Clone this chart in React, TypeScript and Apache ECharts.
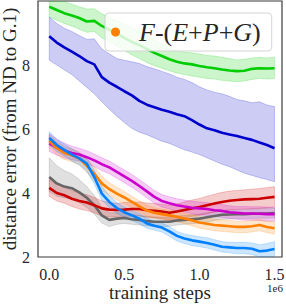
import React, { useEffect, useRef } from "react";
import * as echarts from "echarts";

const steps = [0, 0.05, 0.1, 0.15, 0.2, 0.25, 0.3, 0.35, 0.4, 0.45, 0.5, 0.55, 0.6, 0.65, 0.7, 0.75, 0.8, 0.85, 0.9, 0.95, 1.0, 1.05, 1.1, 1.15, 1.2, 1.25, 1.3, 1.35, 1.4, 1.45, 1.5];

const greenMean = [9.82, 9.72, 9.62, 9.55, 9.47, 9.36, 9.38, 9.22, 9.1, 8.98, 8.85, 8.72, 8.62, 8.5, 8.38, 8.28, 8.18, 8.1, 8.05, 8.02, 7.97, 7.93, 7.9, 7.86, 7.83, 7.81, 7.82, 7.88, 7.9, 7.89, 7.9];
const greenUpper = [10.1, 10.05, 9.98, 9.9, 9.82, 9.75, 9.76, 9.6, 9.5, 9.38, 9.28, 9.16, 9.05, 8.92, 8.78, 8.66, 8.52, 8.45, 8.4, 8.38, 8.34, 8.3, 8.28, 8.24, 8.2, 8.16, 8.18, 8.22, 8.24, 8.22, 8.25];
const greenLower = [9.5, 9.4, 9.3, 9.22, 9.12, 9.02, 9.05, 8.85, 8.72, 8.6, 8.45, 8.32, 8.2, 8.08, 7.98, 7.9, 7.82, 7.75, 7.7, 7.66, 7.62, 7.58, 7.56, 7.52, 7.5, 7.48, 7.5, 7.55, 7.58, 7.56, 7.58];

const navyMean = [8.9, 8.7, 8.55, 8.42, 8.28, 8.12, 8.02, 7.62, 7.45, 7.32, 7.18, 7.05, 6.88, 6.76, 6.68, 6.6, 6.54, 6.46, 6.4, 6.28, 6.14, 6.02, 5.96, 5.88, 5.83, 5.78, 5.72, 5.66, 5.58, 5.5, 5.4];
const navyUpper = [9.5, 9.3, 9.15, 9.05, 8.92, 8.8, 8.82, 8.5, 8.35, 8.2, 8.15, 8.1, 8.05, 7.95, 7.88, 7.8, 7.72, 7.62, 7.55, 7.45, 7.32, 7.22, 7.15, 7.1, 7.02, 6.92, 6.88, 6.82, 6.85, 6.75, 6.7];
const navyLower = [8.15, 8.0, 7.85, 7.7, 7.5, 7.3, 7.1, 6.85, 6.62, 6.4, 6.2, 6.02, 5.9, 5.82, 5.72, 5.62, 5.55, 5.45, 5.35, 5.28, 5.2, 5.1, 5.0, 4.9, 4.82, 4.72, 4.62, 4.55, 4.48, 4.42, 4.35];

const magentaMean = [5.55, 5.42, 5.33, 5.25, 5.2, 5.12, 5.02, 4.9, 4.8, 4.66, 4.52, 4.38, 4.22, 4.05, 3.88, 3.75, 3.68, 3.62, 3.58, 3.54, 3.52, 3.5, 3.46, 3.44, 3.4, 3.38, 3.36, 3.36, 3.35, 3.34, 3.34];
const magentaUpper = [5.85, 5.68, 5.56, 5.46, 5.4, 5.32, 5.22, 5.1, 5.0, 4.86, 4.72, 4.58, 4.42, 4.25, 4.08, 3.95, 3.88, 3.82, 3.78, 3.74, 3.72, 3.7, 3.66, 3.64, 3.6, 3.58, 3.58, 3.57, 3.57, 3.56, 3.55];
const magentaLower = [5.3, 5.18, 5.1, 5.04, 5.0, 4.92, 4.82, 4.7, 4.6, 4.46, 4.32, 4.18, 4.02, 3.85, 3.68, 3.56, 3.5, 3.44, 3.4, 3.35, 3.32, 3.3, 3.26, 3.24, 3.2, 3.18, 3.15, 3.15, 3.14, 3.12, 3.12];

const orangeMean = [5.63, 5.4, 5.25, 5.18, 5.08, 4.85, 4.6, 4.3, 4.12, 3.98, 3.86, 3.72, 3.58, 3.45, 3.38, 3.34, 3.3, 3.26, 3.2, 3.15, 3.08, 3.04, 3.0, 2.98, 2.96, 2.94, 2.94, 2.96, 3.0, 2.94, 2.9];
const orangeUpper = [5.82, 5.6, 5.45, 5.38, 5.28, 5.06, 4.82, 4.52, 4.32, 4.18, 4.05, 3.9, 3.76, 3.62, 3.54, 3.5, 3.46, 3.42, 3.36, 3.32, 3.26, 3.22, 3.18, 3.16, 3.14, 3.12, 3.12, 3.14, 3.18, 3.12, 3.1];
const orangeLower = [5.42, 5.2, 5.05, 4.98, 4.88, 4.64, 4.38, 4.08, 3.92, 3.78, 3.67, 3.54, 3.4, 3.28, 3.22, 3.18, 3.14, 3.1, 3.04, 2.98, 2.9, 2.86, 2.82, 2.8, 2.78, 2.76, 2.76, 2.78, 2.82, 2.76, 2.72];

const skyMean = [5.72, 5.5, 5.35, 5.2, 5.08, 4.92, 4.5, 3.98, 3.72, 3.53, 3.4, 3.3, 3.2, 3.05, 2.98, 2.92, 2.8, 2.66, 2.58, 2.52, 2.48, 2.44, 2.38, 2.32, 2.3, 2.28, 2.28, 2.26, 2.18, 2.2, 2.25];
const skyUpper = [5.92, 5.68, 5.52, 5.38, 5.25, 5.1, 4.72, 4.2, 3.92, 3.7, 3.56, 3.46, 3.36, 3.2, 3.12, 3.06, 2.95, 2.8, 2.72, 2.67, 2.63, 2.6, 2.54, 2.48, 2.46, 2.45, 2.46, 2.44, 2.38, 2.42, 2.48];
const skyLower = [5.5, 5.3, 5.16, 5.0, 4.88, 4.68, 4.28, 3.78, 3.54, 3.36, 3.24, 3.14, 3.04, 2.9, 2.84, 2.78, 2.65, 2.5, 2.42, 2.36, 2.32, 2.28, 2.22, 2.16, 2.13, 2.1, 2.1, 2.08, 2.0, 1.99, 2.02];

const grayMean = [4.5, 4.3, 4.2, 4.15, 4.02, 3.85, 3.62, 3.3, 3.16, 3.2, 3.22, 3.18, 3.16, 3.12, 3.1, 3.1, 3.1, 3.14, 3.16, 3.18, 3.2, 3.24, 3.28, 3.32, 3.33, 3.34, 3.34, 3.35, 3.36, 3.36, 3.37];
const grayUpper = [5.1, 4.85, 4.7, 4.6, 4.42, 4.2, 3.92, 3.56, 3.38, 3.38, 3.38, 3.34, 3.3, 3.27, 3.25, 3.24, 3.24, 3.28, 3.3, 3.32, 3.34, 3.38, 3.42, 3.46, 3.47, 3.48, 3.48, 3.5, 3.51, 3.52, 3.53];
const grayLower = [4.05, 3.9, 3.85, 3.82, 3.7, 3.55, 3.34, 3.06, 2.95, 3.02, 3.05, 3.02, 3.0, 2.97, 2.95, 2.95, 2.96, 3.0, 3.02, 3.04, 3.06, 3.1, 3.14, 3.18, 3.19, 3.2, 3.2, 3.2, 3.21, 3.21, 3.22];

const redMean = [4.16, 4.0, 3.93, 3.82, 3.75, 3.7, 3.62, 3.52, 3.48, 3.47, 3.48, 3.5, 3.5, 3.46, 3.44, 3.42, 3.38, 3.42, 3.47, 3.52, 3.56, 3.62, 3.67, 3.72, 3.76, 3.78, 3.8, 3.81, 3.82, 3.85, 3.88];
const redUpper = [4.42, 4.26, 4.18, 4.08, 4.0, 3.95, 3.86, 3.76, 3.7, 3.68, 3.7, 3.72, 3.72, 3.69, 3.67, 3.65, 3.62, 3.66, 3.72, 3.78, 3.83, 3.9, 3.96, 4.02, 4.06, 4.08, 4.1, 4.12, 4.14, 4.17, 4.2];
const redLower = [3.9, 3.75, 3.68, 3.58, 3.5, 3.45, 3.38, 3.28, 3.25, 3.25, 3.26, 3.28, 3.28, 3.24, 3.22, 3.2, 3.15, 3.18, 3.22, 3.27, 3.3, 3.35, 3.4, 3.44, 3.47, 3.49, 3.5, 3.51, 3.52, 3.54, 3.56];

const xTicks = [0, 0.5, 1.0, 1.5];
const yTicks = [2, 4, 6, 8];

const LEGEND_NAME = "F-(E+P+G)";
const FONT = "Liberation Serif";

const groups = [
  { key: "green", rgb: [0, 204, 0], mean: greenMean, upper: greenUpper, lower: greenLower },
  { key: "navy", rgb: [0, 0, 204], mean: navyMean, upper: navyUpper, lower: navyLower },
  { key: "gray", rgb: [102, 102, 102], mean: grayMean, upper: grayUpper, lower: grayLower },
  { key: "red", rgb: [204, 0, 0], mean: redMean, upper: redUpper, lower: redLower },
  { key: "magenta", rgb: [204, 0, 204], mean: magentaMean, upper: magentaUpper, lower: magentaLower },
  { key: "orange", rgb: [255, 128, 0], mean: orangeMean, upper: orangeUpper, lower: orangeLower, name: LEGEND_NAME },
  { key: "sky", rgb: [0, 128, 255], mean: skyMean, upper: skyUpper, lower: skyLower },
];

const rgba = (c: number[], a: number) => `rgba(${c[0]},${c[1]},${c[2]},${a})`;

export default function App() {
  const ref = useRef<HTMLDivElement>(null);
  useEffect(() => {
    if (!ref.current) return;
    const chart = echarts.init(ref.current, undefined, { renderer: "svg" });
    const series: any[] = [];
    groups.forEach((g) => {
      series.push({
        type: "custom",
        name: g.key + "-band",
        silent: true,
        clip: true,
        z: 1,
        data: steps.map((x, i) => [x, g.lower[i], g.upper[i]]),
        encode: { x: 0, y: [1, 2] },
        renderItem: (params: any, api: any) => {
          if (params.dataIndex !== 0) return null;
          const up = steps.map((x, i) => api.coord([x, g.upper[i]]));
          const lo = steps.map((x, i) => api.coord([x, g.lower[i]])).reverse();
          const cs = params.coordSys;
          const shape = echarts.graphic.clipPointsByRect(up.concat(lo), {
            x: cs.x, y: cs.y, width: cs.width, height: cs.height,
          });
          return {
            type: "polygon",
            shape: { points: shape },
            style: { fill: rgba(g.rgb, 0.2), stroke: rgba(g.rgb, 0.25), lineWidth: 0.8 },
          };
        },
      });
    });
    groups.forEach((g) => {
      series.push({
        type: "line",
        name: (g as any).name || g.key,
        data: steps.map((x, i) => [x, g.mean[i]]),
        symbol: "none",
        color: rgba(g.rgb, 1),
        itemStyle: { color: rgba(g.rgb, 1) },
        lineStyle: { width: 2.6, color: rgba(g.rgb, 1) },
        z: 3,
      });
    });

    const rich = {
      f: { fontFamily: FONT, fontSize: 26, fontStyle: "italic", color: "#262626", padding: [0, 0, 0, 14], lineHeight: 32 },
      a: { fontFamily: FONT, fontSize: 26, fontStyle: "italic", color: "#262626", lineHeight: 32 },
      b: { fontFamily: FONT, fontSize: 26, color: "#262626", lineHeight: 32 },
    };

    chart.setOption({
      animation: false,
      grid: {
        left: 38, right: 4, top: 1, bottom: 47,
        containLabel: false,
        outerBoundsMode: "none",
        show: true, borderColor: "#3a3a3a", borderWidth: 1.2, backgroundColor: "transparent",
      },
      legend: {
        data: [{ name: LEGEND_NAME, icon: "circle" }],
        left: 105,
        top: 13,
        itemWidth: 9,
        itemHeight: 9,
        padding: [6, 11, 6, 6],
        backgroundColor: "rgba(255,255,255,0.8)",
        borderColor: "#d4d4d4",
        borderWidth: 1,
        borderRadius: 4,
        selectedMode: false,
        formatter: () => "{f|F}{b|-(}{a|E}{b|+}{a|P}{b|+}{a|G}{b|)}",
        textStyle: { fontFamily: FONT, fontSize: 26, color: "#262626", rich },
      },
      xAxis: {
        type: "value",
        min: -0.075,
        max: 1.55,
        name: "training steps",
        nameLocation: "middle",
        nameGap: 26,
        nameMoveOverlap: false,
        nameTextStyle: { fontFamily: FONT, fontSize: 19, color: "#262626", verticalAlign: "top" },
        axisLine: { show: false },
        axisTick: { show: false },
        splitLine: { show: false },
        axisLabel: {
          customValues: xTicks,
          formatter: (v: number) => v.toFixed(1),
          fontFamily: FONT,
          fontSize: 16,
          color: "#262626",
          margin: 9,
        },
      },
      yAxis: {
        type: "value",
        min: 2,
        max: 10,
        name: "distance error (from ND to G.1)",
        nameLocation: "middle",
        nameGap: 19,
        nameMoveOverlap: false,
        nameTextStyle: { fontFamily: FONT, fontSize: 19, color: "#262626" },
        axisLine: { show: false },
        axisTick: { show: false },
        splitLine: { show: false },
        axisLabel: {
          customValues: yTicks,
          formatter: (v: number) => String(v),
          fontFamily: FONT,
          fontSize: 16,
          color: "#262626",
          margin: 8,
        },
      },
      graphic: [
        {
          type: "text",
          right: 3,
          top: 282,
          style: { text: "1e6", fontFamily: FONT, fontSize: 11, fill: "#262626" },
        },
      ],
      series,
    });
    return () => chart.dispose();
  }, []);
  return <div ref={ref} style={{ width: 286, height: 304, position: "absolute", left: 0, top: 0 }} />;
}
